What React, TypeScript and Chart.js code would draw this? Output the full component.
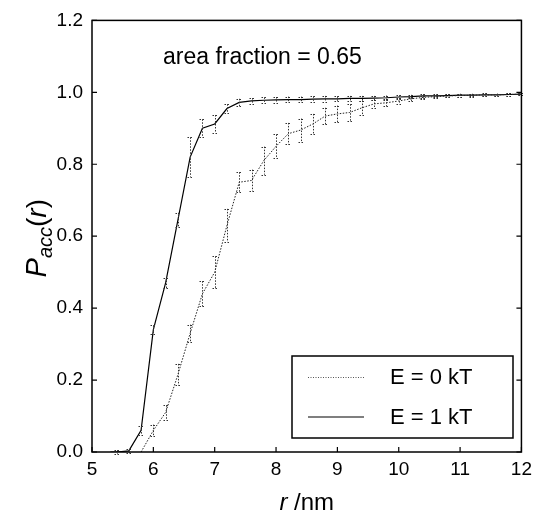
import React, { useEffect, useRef } from "react";
import { Chart, registerables } from "chart.js";

Chart.register(...registerables);

// E = 0 kT (dotted)
const rDotted = [5.8, 6.0, 6.2, 6.4, 6.6, 6.8, 7.0, 7.2, 7.4, 7.6, 7.8, 8.0, 8.2, 8.4, 8.6, 8.8, 9.0, 9.2, 9.4, 9.6, 9.8, 10.0, 10.2, 10.4, 10.6, 10.8, 11.0, 11.2, 11.4, 11.6, 11.8, 12.0];
const pDotted = [0.0, 0.06, 0.11, 0.215, 0.33, 0.44, 0.5, 0.63, 0.75, 0.755, 0.81, 0.85, 0.885, 0.895, 0.912, 0.934, 0.94, 0.944, 0.957, 0.968, 0.971, 0.976, 0.982, 0.986, 0.988, 0.99, 0.991, 0.992, 0.993, 0.993, 0.994, 0.995];
const eDotted = [0.0, 0.016, 0.02, 0.03, 0.024, 0.035, 0.044, 0.046, 0.028, 0.03, 0.039, 0.033, 0.03, 0.032, 0.028, 0.023, 0.023, 0.023, 0.02, 0.012, 0.01, 0.008, 0.006, 0.005, 0.004, 0.004, 0.003, 0.003, 0.003, 0.003, 0.003, 0.003];

// E = 1 kT (solid)
const rSolid = [5.3, 5.4, 5.6, 5.8, 6.0, 6.2, 6.4, 6.6, 6.8, 7.0, 7.2, 7.4, 7.6, 7.8, 8.0, 8.2, 8.4, 8.6, 8.8, 9.0, 9.2, 9.4, 9.6, 9.8, 10.0, 10.2, 10.4, 10.6, 10.8, 11.0, 11.2, 11.4, 11.6, 11.8, 12.0];
const pSolid = [0.0, 0.0, 0.003, 0.06, 0.34, 0.47, 0.645, 0.82, 0.9, 0.912, 0.955, 0.972, 0.976, 0.978, 0.979, 0.98, 0.98, 0.981, 0.982, 0.982, 0.983, 0.983, 0.984, 0.985, 0.987, 0.988, 0.99, 0.99, 0.991, 0.992, 0.992, 0.993, 0.993, 0.994, 0.995];
const eSolid = [0.0, 0.005, 0.005, 0.012, 0.012, 0.015, 0.02, 0.055, 0.025, 0.025, 0.012, 0.01, 0.008, 0.008, 0.008, 0.008, 0.008, 0.008, 0.008, 0.007, 0.007, 0.007, 0.006, 0.006, 0.005, 0.005, 0.005, 0.004, 0.004, 0.004, 0.004, 0.004, 0.003, 0.003, 0.003];

const xTicks = [5, 6, 7, 8, 9, 10, 11, 12];
const yTicks = [0, 0.2, 0.4, 0.6, 0.8, 1.0, 1.2];
const legendLabels = ["E = 0 kT", "E = 1 kT"];
const annotation = "area fraction = 0.65";

const FONT = "'Liberation Sans', Arial, Helvetica, sans-serif";

const decorPlugin = {
  id: "decor",
  afterDatasetsDraw(chart: any) {
    const ctx = chart.ctx;
    const xs = chart.scales.x;
    const ys = chart.scales.y;
    const sets = [
      { r: rDotted, p: pDotted, e: eDotted },
      { r: rSolid, p: pSolid, e: eSolid },
    ];
    ctx.save();
    ctx.strokeStyle = "#333";
    ctx.lineWidth = 1;
    ctx.setLineDash([1.5, 1.5]);
    sets.forEach((s) => {
      s.r.forEach((x, i) => {
        if (s.e[i] <= 0) return;
        const px = Math.round(xs.getPixelForValue(x)) + 0.5;
        const y1 = ys.getPixelForValue(s.p[i] + s.e[i]);
        const y2 = ys.getPixelForValue(s.p[i] - s.e[i]);
        ctx.beginPath();
        ctx.moveTo(px, y1);
        ctx.lineTo(px, y2);
        ctx.moveTo(px - 3, Math.round(y1) + 0.5);
        ctx.lineTo(px + 3, Math.round(y1) + 0.5);
        ctx.moveTo(px - 3, Math.round(y2) + 0.5);
        ctx.lineTo(px + 3, Math.round(y2) + 0.5);
        ctx.stroke();
      });
    });
    ctx.restore();
  },
  afterDraw(chart: any) {
    const ctx = chart.ctx;
    const a = chart.chartArea;
    const xs = chart.scales.x;
    const ys = chart.scales.y;
    ctx.save();
    // frame
    ctx.strokeStyle = "#000";
    ctx.lineWidth = 1.5;
    ctx.setLineDash([]);
    ctx.strokeRect(a.left, a.top, a.right - a.left, a.bottom - a.top);
    // inward ticks
    ctx.lineWidth = 1.2;
    ctx.beginPath();
    xTicks.forEach((v) => {
      const px = xs.getPixelForValue(v);
      ctx.moveTo(px, a.bottom);
      ctx.lineTo(px, a.bottom - 5);
    });
    yTicks.forEach((v) => {
      const py = ys.getPixelForValue(v);
      ctx.moveTo(a.left, py);
      ctx.lineTo(a.left + 5, py);
      ctx.moveTo(a.right, py);
      ctx.lineTo(a.right - 5, py);
    });
    ctx.stroke();

    // annotation
    ctx.fillStyle = "#000";
    ctx.font = `23px ${FONT}`;
    ctx.textBaseline = "alphabetic";
    ctx.textAlign = "left";
    ctx.fillText(annotation, 163, 64);

    // legend
    const lx = 292, ly = 356, lw = 221, lh = 82;
    ctx.lineWidth = 1.5;
    ctx.strokeStyle = "#000";
    ctx.strokeRect(lx, ly, lw, lh);
    const rows = [377, 417];
    // dotted sample
    ctx.lineWidth = 1;
    ctx.strokeStyle = "#555";
    ctx.setLineDash([1, 1.5]);
    ctx.beginPath();
    ctx.moveTo(308, rows[0] + 0.5);
    ctx.lineTo(364, rows[0] + 0.5);
    ctx.stroke();
    ctx.setLineDash([]);
    ctx.strokeStyle = "#555";
    ctx.lineWidth = 1.5;
    ctx.beginPath();
    ctx.moveTo(308, rows[1]);
    ctx.lineTo(364, rows[1]);
    ctx.stroke();
    ctx.font = `22px ${FONT}`;
    ctx.textBaseline = "middle";
    ctx.fillStyle = "#000";
    legendLabels.forEach((t, i) => ctx.fillText(t, 390, rows[i] + 1));

    // x title: "r /nm"
    ctx.textBaseline = "alphabetic";
    const cx = (a.left + a.right) / 2;
    ctx.font = `italic 24px ${FONT}`;
    const w1 = ctx.measureText("r").width;
    ctx.font = `24px ${FONT}`;
    const w2 = ctx.measureText(" /nm").width;
    let sx = cx - (w1 + w2) / 2;
    ctx.font = `italic 24px ${FONT}`;
    ctx.fillText("r", sx, 510);
    ctx.font = `24px ${FONT}`;
    ctx.fillText(" /nm", sx + w1, 510);

    // y title: P_acc(r)
    ctx.translate(46, (a.top + a.bottom) / 2 + 2);
    ctx.rotate(-Math.PI / 2);
    const parts = [
      { t: "P", f: `italic 29px ${FONT}`, dy: 0 },
      { t: "acc", f: `italic 20px ${FONT}`, dy: 6 },
      { t: "(", f: `28px ${FONT}`, dy: 0 },
      { t: "r", f: `italic 28px ${FONT}`, dy: 0 },
      { t: ")", f: `28px ${FONT}`, dy: 0 },
    ];
    let total = 0;
    parts.forEach((p) => {
      ctx.font = p.f;
      total += ctx.measureText(p.t).width;
    });
    let tx = -total / 2;
    parts.forEach((p) => {
      ctx.font = p.f;
      ctx.fillText(p.t, tx, p.dy);
      tx += ctx.measureText(p.t).width;
    });
    ctx.restore();
  },
};

export default function App() {
  const ref = useRef<HTMLCanvasElement | null>(null);
  useEffect(() => {
    document.body.style.margin = "0";
    const c = ref.current;
    if (!c) return;
    const chart = new Chart(c, {
      type: "scatter",
      data: {
        datasets: [
          {
            label: legendLabels[0],
            data: rDotted.map((x, i) => ({ x, y: pDotted[i] })),
            showLine: true,
            borderColor: "#222",
            borderWidth: 1,
            borderDash: [1.5, 1.5],
            pointRadius: 0,
            fill: false,
            tension: 0,
          },
          {
            label: legendLabels[1],
            data: rSolid.map((x, i) => ({ x, y: pSolid[i] })),
            showLine: true,
            borderColor: "#000",
            borderWidth: 1.2,
            pointRadius: 0,
            fill: false,
            tension: 0,
          },
        ],
      },
      options: {
        responsive: false,
        animation: false,
        devicePixelRatio: 1,
        layout: { padding: { top: 18, right: 12, left: 0, bottom: 0 } },
        plugins: { legend: { display: false }, tooltip: { enabled: false } },
        scales: {
          x: {
            type: "linear",
            min: 5,
            max: 12,
            afterFit: (s: any) => { s.height = 64; },
            afterBuildTicks: (s: any) => { s.ticks = xTicks.map((v) => ({ value: v })); },
            ticks: { color: "#000", font: { size: 19, family: FONT }, padding: 6, maxRotation: 0, callback: (v: any) => String(v) },
            grid: { display: false, drawTicks: false },
            border: { display: false },
          },
          y: {
            type: "linear",
            min: 0,
            max: 1.2,
            afterFit: (s: any) => { s.width = 92; },
            afterBuildTicks: (s: any) => { s.ticks = yTicks.map((v) => ({ value: v })); },
            ticks: { color: "#000", font: { size: 19, family: FONT }, padding: 9, callback: (v: any) => Number(v).toFixed(1) },
            grid: { display: false, drawTicks: false },
            border: { display: false },
          },
        },
      },
      plugins: [decorPlugin],
    } as any);
    return () => chart.destroy();
  }, []);
  return (
    <div style={{ position: "fixed", left: 0, top: 0, width: 538, height: 516, background: "#fff" }}>
      <canvas ref={ref} width={538} height={516} style={{ width: 538, height: 516 }} />
    </div>
  );
}
